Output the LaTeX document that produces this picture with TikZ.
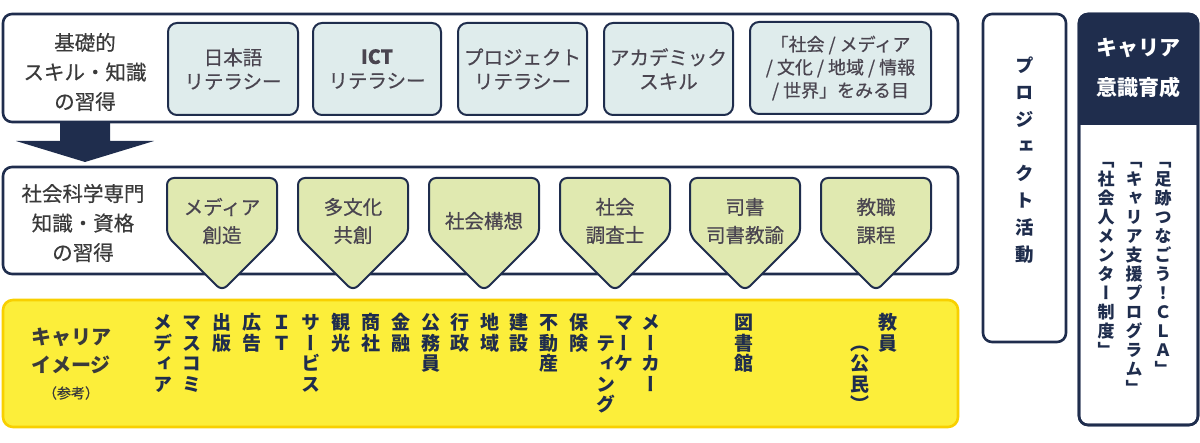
\documentclass[tikz,border=0pt]{standalone}
\usepackage{fontspec}
\setmainfont{Noto Sans CJK JP}
\newfontfamily\medfont[FakeBold=0.5]{Noto Sans CJK JP}
\newfontfamily\tatefont[RawFeature=+vert]{Noto Sans CJK JP}
\usepackage{tikz}

% one character per line, for vertical text
\makeatletter
\newcommand\tate[1]{\rule{0pt}{0.88em}\tate@first#1\relax}
\def\tate@first#1{#1\tate@next}
\def\tate@next#1{\ifx\relax#1\else\\#1\expandafter\tate@next\fi}
\makeatother

% pentagon tag of the second row: centre x, name, text
\newcommand\tagbox[3]{%
	\draw[tag shape] (#1-55,178) -- (#1+55,178) -- (#1+55,236) -- (#1,291) -- (#1-55,236) -- cycle;
	\node[tag text] (#2) at (#1,221) {#3};}

\begin{document}
\begin{tikzpicture}
		[x=1pt,y=-1pt,line join=round,
		%Styles
		outer box/.style={draw=navy,fill=white,line width=2.6pt,rounded corners=9pt,inner sep=0pt},
		inner box/.style={draw=navy,fill=paleblue,line width=2pt,rounded corners=9pt,minimum height=92pt,text=inktext,font=\medfont\fontsize{19.5}{24}\selectfont,align=center},
		tag shape/.style={draw=navy,fill=palegreen,line width=2pt,rounded corners=7pt},
		tag text/.style={text=inktext,font=\medfont\fontsize{19.5}{28}\selectfont,align=center},
		side label/.style={text=labeltext,font=\medfont\fontsize{20.5}{29.5}\selectfont,align=center},
		job/.style={anchor=north,inner sep=0pt,text=navy,font=\tatefont\bfseries\fontsize{19}{20.4}\selectfont,align=center},
		side text/.style={anchor=north,inner sep=0pt,text=navy,align=center}
		]
		
		%Colors
		\definecolor{navy}{HTML}{1F2D4D}
		\definecolor{paleblue}{HTML}{DFECEC}
		\definecolor{palegreen}{HTML}{E0E9B0}
		\definecolor{lemon}{HTML}{FCEE3A}
		\definecolor{gold}{HTML}{F8D000}
		\definecolor{inktext}{HTML}{4A4550}
		\definecolor{labeltext}{HTML}{3A3A3A}
		
		\useasboundingbox (0,0) rectangle (1200,443);
		
		%Basic skills
		\node[outer box,minimum width=955,minimum height=108] (basic) at (480.5,68) {};
		\node[side label] (basiclabel) at (85,72) {基礎的\\スキル・知識\\の習得};
		\node[inner box,minimum width=130] (japanese) at (233,69) {日本語\\リテラシー};
		\node[inner box,minimum width=128] (ict) at (377,69) {\textbf{ICT}\\リテラシー};
		\node[inner box,minimum width=129] (project) at (522.5,69) {プロジェクト\\リテラシー};
		\node[inner box,minimum width=129] (academic) at (668.5,69) {アカデミック\\スキル};
		\node[inner box,minimum width=181,font=\medfont\fontsize{18}{23}\selectfont] (eyes) at (840.5,68) {「社会 / メディア\\/ 文化 / 地域 / 情報\\/ 世界」をみる目};
		
		\fill[navy] (60,122) -- (110,122) -- (110,141) -- (154,141) -- (85,162) -- (16,141) -- (60,141) -- cycle;
		
		%Special knowledge
		\node[outer box,minimum width=955,minimum height=107] (special) at (480.5,220.5) {};
		\node[side label] (speciallabel) at (83,223) {社会科学専門\\知識・資格\\の習得};
		\tagbox{222}{media}{メディア\\創造}
		\tagbox{353}{culture}{多文化\\共創}
		\tagbox{484}{society}{社会構想}
		\tagbox{615}{survey}{社会\\調査士}
		\tagbox{745}{librarian}{司書\\司書教諭}
		\tagbox{876}{teaching}{教職\\課程}
		
		%Career image
		\node[draw=gold,fill=lemon,line width=2.6pt,rounded corners=10pt,minimum width=955,minimum height=127] (career) at (480.5,363.5) {};
		\node[text=labeltext,font=\bfseries\fontsize{20}{28}\selectfont,align=center] (careerlabel) at (71,351) {キャリア\\イメージ};
		\node[text=labeltext,font=\medfont\fontsize{14}{16}\selectfont] (note) at (71,393) {（参考）};
		\node[job] (massmedia) at (163,313) {\tate{メディア}};
		\node[job] (masscomm) at (192,313) {\tate{マスコミ}};
		\node[job] (publish) at (222,313) {\tate{出版}};
		\node[job] (advert) at (252,313) {\tate{広告}};
		\node[job] (it) at (282,313) {\tate{ＩＴ}};
		\node[job] (service) at (311,313) {\tate{サービス}};
		\node[job] (tourism) at (341,313) {\tate{観光}};
		\node[job] (trading) at (371,313) {\tate{商社}};
		\node[job] (finance) at (401,313) {\tate{金融}};
		\node[job] (civil) at (431,313) {\tate{公務員}};
		\node[job] (admin) at (460,313) {\tate{行政}};
		\node[job] (region) at (490,313) {\tate{地域}};
		\node[job] (build) at (519,313) {\tate{建設}};
		\node[job] (estate) at (549,313) {\tate{不動産}};
		\node[job] (insure) at (579,313) {\tate{保険}};
		\node[job] (marketA) at (624,313) {\tate{マーケ}};
		\node[job] (marketB) at (606,333.4) {\tate{ティング}};
		\node[job] (maker) at (651,313) {\tate{メーカー}};
		\node[job] (library) at (744,313) {\tate{図書館}};
		\node[job] (teacher) at (888,313) {\tate{教員}};
		\node[job] (civics) at (860,333.4) {\tate{（公民）}};
		
		%Project activities
		\node[outer box,minimum width=83,minimum height=328] (activity) at (1024.5,178) {};
		\node[side text,font=\tatefont\bfseries\fontsize{18.5}{27}\selectfont] (activitytext) at (1024.5,56) {\tate{プロジェクト活動}};
		
		%Career awareness
		\node[outer box,minimum width=119,minimum height=411] (aware) at (1138.5,219.5) {};
		\begin{scope}
			\clip[rounded corners=9pt] (1079,14) rectangle (1198,425);
			\fill[navy] (1079,14) rectangle (1198,125);
		\end{scope}
		\draw[navy,line width=2.6pt,rounded corners=9pt] (1079,14) rectangle (1198,425);
		\node[text=white,font=\bfseries\fontsize{21}{40}\selectfont,align=center] (awarehead) at (1138.5,68) {キャリア\\意識育成};
		\node[side text,font=\tatefont\bfseries\fontsize{17}{19}\selectfont] (cla) at (1163,151) {\tate{「足跡つなごう！ＣＬＡ」}};
		\node[side text,font=\tatefont\bfseries\fontsize{17}{19}\selectfont] (support) at (1134,151) {\tate{「キャリア支援プログラム」}};
		\node[side text,font=\tatefont\bfseries\fontsize{17}{19}\selectfont] (mentor) at (1106,151) {\tate{「社会人メンター制度」}};
	\end{tikzpicture}
\end{document}
